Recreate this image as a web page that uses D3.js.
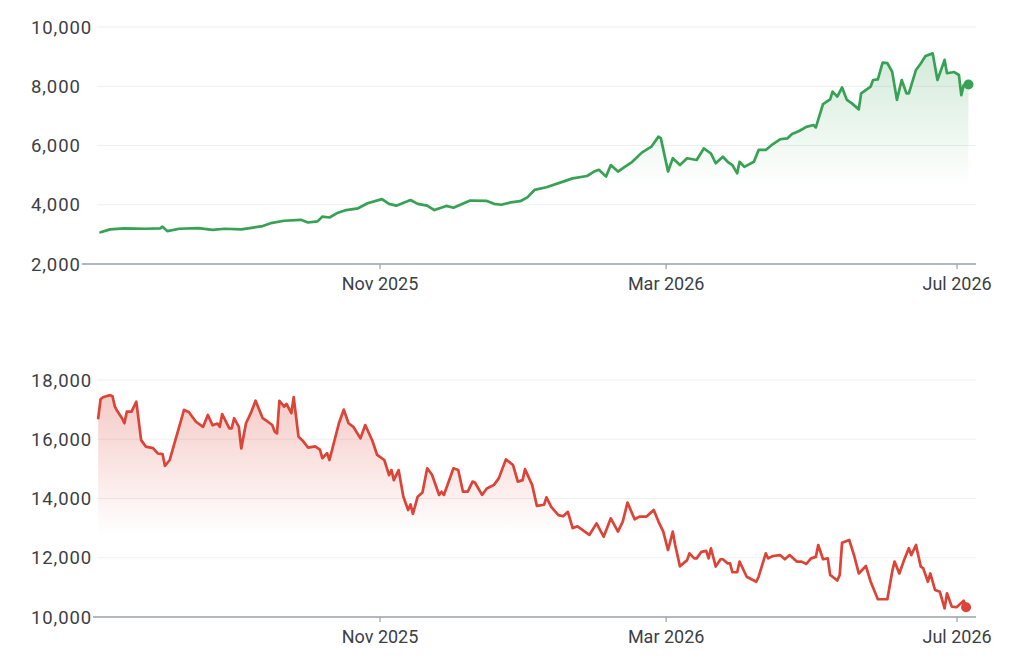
<!DOCTYPE html>
<html><head><meta charset="utf-8">
<script src="https://cdn.jsdelivr.net/npm/d3@7"></script>
<style>
body{margin:0;background:#fff;}
text{font-family:Roboto,"Open Sans",sans-serif;}
</style>
</head><body>
<svg id="c" width="1024" height="668"></svg>
<script>
// ---------- data ----------
const topStart = "2025-07-07";
const topDays = [0,4,10,19,25,26,28,33,41,47,52,59,64,68,72,77,84,87,91,93,96,99,103,108,112,118,121,124,130,133,137,140,145,148,155,162,165,168,172,176,179,182,187,194,198,204,207,209,212,214,217,220,223,227,231,234,235,238,240,243,246,250,253,256,258,261,263,265,267,268,270,274,276,279,282,285,288,290,293,296,299,300,303,306,307,309,311,313,315,318,319,323,324,326,328,330,332,334,336,338,339,342,344,346,349,351,354,355,358,360,361,362,364];
const topValues = [3070,3170,3200,3190,3200,3260,3110,3190,3210,3150,3190,3170,3230,3280,3390,3460,3490,3400,3440,3600,3570,3710,3820,3880,4050,4190,4030,3970,4160,4030,3970,3820,3960,3900,4140,4130,4030,4000,4080,4120,4250,4500,4590,4780,4890,4970,5120,5180,4950,5340,5120,5290,5450,5760,5960,6300,6240,5120,5570,5340,5570,5510,5900,5730,5400,5620,5450,5340,5060,5450,5280,5450,5850,5850,6050,6210,6240,6390,6490,6630,6690,6610,7400,7560,7820,7650,7960,7540,7430,7220,7760,7990,8210,8230,8800,8780,8490,7540,8210,7760,7760,8550,8770,9020,9110,8210,8890,8440,8480,8380,7700,8040,8060];

const bottomStart = "2025-07-06";
const bottomDays = [0,1,2,5,6,7,8,10,11,12,14,16,18,20,23,25,27,28,30,36,38,41,44,46,48,50,51,52,55,56,57,59,60,62,64,66,69,71,73,74,75,76,78,79,81,82,84,86,88,91,93,94,96,97,101,103,105,107,110,112,115,117,120,122,123,124,126,128,130,131,132,134,136,138,140,143,144,145,149,151,153,155,157,158,161,163,166,168,171,174,176,178,179,182,184,187,188,190,193,195,197,199,201,206,209,212,215,218,220,222,225,227,230,233,235,237,239,241,242,244,247,248,250,251,253,255,256,257,259,261,262,264,265,266,268,269,272,276,277,280,281,283,286,288,290,293,295,297,299,301,302,304,306,307,310,311,312,315,317,319,322,324,327,331,333,334,336,338,340,341,343,345,346,348,349,351,353,355,356,358,360,363,364];
const bottomValues = [16710,17350,17420,17490,17450,17100,16950,16710,16540,16930,16930,17270,15970,15750,15700,15520,15500,15100,15300,16990,16920,16590,16420,16820,16470,16530,16420,16850,16370,16370,16710,16420,15690,16540,16880,17300,16710,16600,16480,16260,16200,17300,17100,17190,16880,17420,16090,15930,15720,15760,15650,15360,15530,15300,16550,17000,16540,16420,16030,16480,15950,15470,15300,14790,14960,14620,14960,14060,13610,13800,13480,14060,14200,15020,14800,14120,14230,14120,15020,14960,14230,14230,14570,14540,14120,14340,14460,14680,15320,15130,14570,14620,14990,14460,13750,13790,14040,13720,13440,13400,13550,13000,13060,12770,13160,12710,13330,12880,13220,13860,13300,13390,13390,13610,13220,12880,12260,12880,12430,11710,11920,12150,11980,11980,12200,12230,11980,12320,11700,11950,11950,11810,11810,11510,11510,11870,11360,11190,11360,12150,11980,12060,12090,11950,12090,11870,11870,11790,11980,12030,12430,11950,11980,11420,11230,11420,12510,12600,12090,11470,11720,11190,10600,10600,11530,11870,11470,11920,12320,12090,12430,11700,11650,11190,11470,10910,10850,10290,10800,10350,10330,10550,10330];

const xTickDates = ["2025-11-01","2026-03-01","2026-07-01"];
const xTickLabels = ["Nov 2025","Mar 2026","Jul 2026"];
const topYTicks = [2000,4000,6000,8000,10000];
const bottomYTicks = [10000,12000,14000,16000,18000];

// ---------- drawing ----------
const parse = d3.timeParse("%Y-%m-%d");
const svg = d3.select("#c");
const fmt = d3.format(",");

const x = d3.scaleTime()
  .domain([new Date(2025,6,5,12), new Date(2026,6,9,4)])
  .range([97, 976]);

const defs = svg.append("defs");

function drawChart(cfg){
  const start = parse(cfg.start);
  const data = cfg.days.map((d,i)=>({date:d3.timeDay.offset(start,d), value:cfg.values[i]}));
  const y = d3.scaleLinear().domain(cfg.yDomain).range(cfg.yRange);
  const g = svg.append("g");

  // gridlines
  g.selectAll("line.grid").data(cfg.yTicks.slice(1)).join("line")
    .attr("x1", x.range()[0]).attr("x2", x.range()[1])
    .attr("y1", d=>y(d)).attr("y2", d=>y(d))
    .attr("stroke","#efefef").attr("stroke-width",1);

  // y labels
  const labels = g.selectAll("text.yl").data(cfg.yTicks).join("text")
    .attr("x",31).attr("y",d=>y(d)).attr("dy","0.36em")
    .attr("font-size",18.5).attr("letter-spacing","0.9px")
    .attr("fill","#3c4043").text(d=>fmt(d));

  // gradient
  const gid = cfg.id + "grad";
  const grad = defs.append("linearGradient").attr("id",gid)
    .attr("x1",0).attr("y1",0).attr("x2",0).attr("y2",1);
  grad.append("stop").attr("offset","0").attr("stop-color",cfg.color).attr("stop-opacity",cfg.fillOpacity);
  grad.append("stop").attr("offset","0.63").attr("stop-color",cfg.color).attr("stop-opacity",0);

  const area = d3.area().x(d=>x(d.date)).y0(y(cfg.yDomain[0])).y1(d=>y(d.value));
  g.append("path").datum(data).attr("d",area).attr("fill",`url(#${gid})`);

  // baseline axis
  const lowLabel = labels.filter(d=>d===cfg.yDomain[0]).node();
  const lx = 31 + lowLabel.getComputedTextLength() + 1;
  const axis = d3.axisBottom(x)
    .tickValues(xTickDates.map(parse))
    .tickFormat((d,i)=>xTickLabels[i])
    .tickSize(5).tickSizeOuter(0).tickPadding(8);
  const ag = g.append("g").attr("transform",`translate(0,${y(cfg.yDomain[0])})`).call(axis);
  ag.select(".domain").remove();
  ag.selectAll(".tick line").attr("stroke","#9aa0a6").attr("stroke-width",1.2);
  ag.selectAll(".tick text").attr("font-size",18).attr("fill","#3c4043")
    .attr("font-family",'Roboto,"Open Sans",sans-serif');
  g.append("line").attr("x1",lx).attr("x2",x.range()[1])
    .attr("y1",y(cfg.yDomain[0])).attr("y2",y(cfg.yDomain[0]))
    .attr("stroke","#9aa0a6").attr("stroke-width",1.5);

  // line
  const line = d3.line().x(d=>x(d.date)).y(d=>y(d.value));
  g.append("path").datum(data).attr("d",line).attr("fill","none")
    .attr("stroke",cfg.color).attr("stroke-width",2.7)
    .attr("stroke-linejoin","round").attr("stroke-linecap","round");

  // end dot
  const last = data[data.length-1];
  g.append("circle").attr("cx",x(last.date)).attr("cy",y(last.value))
    .attr("r",5).attr("fill",cfg.color);
}

drawChart({id:"top", start:topStart, days:topDays, values:topValues,
  yDomain:[2000,10000], yRange:[264,27], yTicks:topYTicks,
  color:"#37a154", fillOpacity:0.22});
drawChart({id:"bottom", start:bottomStart, days:bottomDays, values:bottomValues,
  yDomain:[10000,18000], yRange:[617,380], yTicks:bottomYTicks,
  color:"#db4437", fillOpacity:0.28});
</script>
</body></html>
